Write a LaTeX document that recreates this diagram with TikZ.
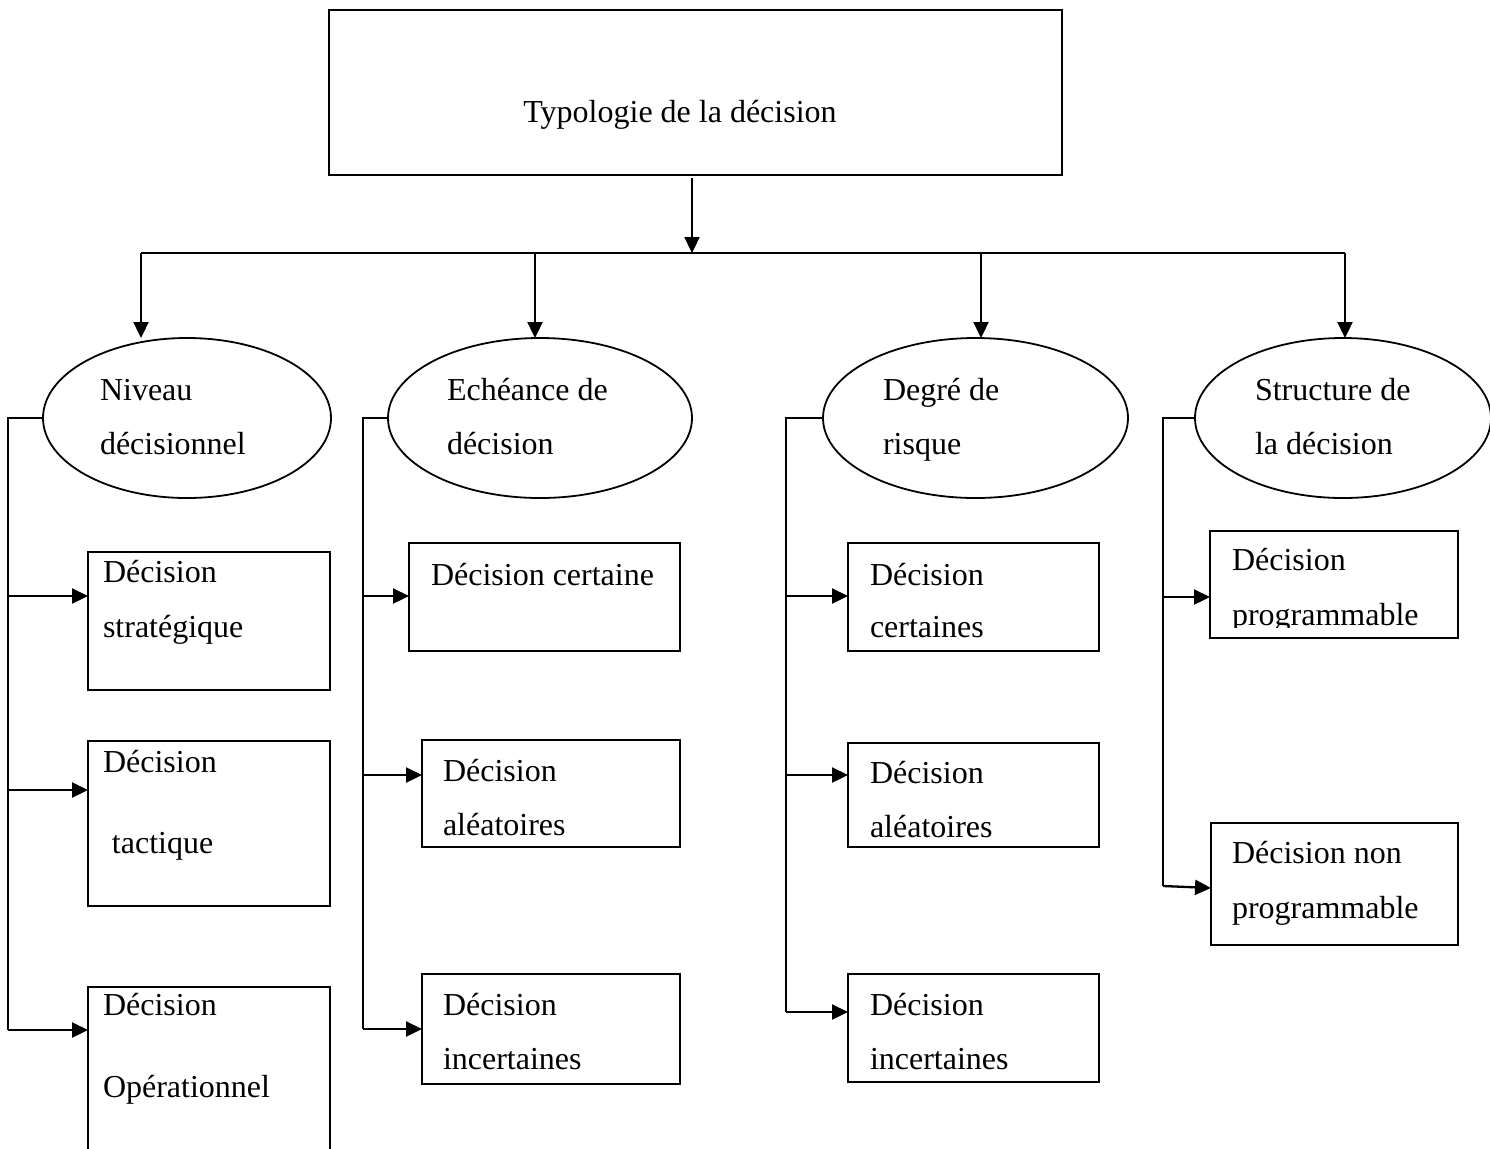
\documentclass[tikz,border=0pt]{standalone}
\usepackage{fontspec}
\setmainfont{Liberation Serif}
\usetikzlibrary{fit,shapes.geometric,arrows.meta}
\begin{document}
\begin{tikzpicture}[x=0.5pt,y=-0.5pt,
  line width=1.15pt,
  box/.style={draw,rectangle,inner sep=0pt,outer sep=0pt},
  ell/.style={draw,ellipse,inner sep=0pt,outer sep=0pt,line width=0.9pt,minimum height=80pt},
  txt/.style={anchor=base west,inner sep=0pt,outer sep=0pt,font=\fontsize{16pt}{16pt}\selectfont},
  arr/.style={-{Triangle[length=8pt,width=7.5pt]}}]
\path[use as bounding box,clip] (0,0) rectangle (1490,1148);

% top
\node[box,line width=1.3pt,fit={(329,10) (1062,175)}] (T) {};
\node[txt,anchor=base] (tT) at (680,122) {Typologie de la décision};
\coordinate (hub) at (692,253);
\coordinate (h1) at (141,253);
\coordinate (h2) at (535,253);
\coordinate (h3) at (981,253);
\coordinate (h4) at (1345,253);
\draw[arr] ([yshift=-1.5pt]T.south -| hub) -- (hub);
\draw (h1) -- (h4);

% ellipses
\node[ell,minimum width=144pt] (e1) at (187,418) {};
\node[ell,minimum width=152pt] (e2) at (540,418) {};
\node[ell,minimum width=152.5pt] (e3) at (975.5,418) {};
\node[ell,minimum width=148pt] (e4) at (1343,418) {};
\draw[arr] (h1) -- (h1 |- e1.north);
\draw[arr] (h2) -- (h2 |- e2.north);
\draw[arr] (h3) -- (h3 |- e3.north);
\draw[arr] (h4) -- (h4 |- e4.north);

\node[txt] (te1a) at (100,400) {Niveau};
\node[txt] (te1b) at (100,454) {décisionnel};
\node[txt] (te2a) at (447,400) {Echéance de};
\node[txt] (te2b) at (447,454) {décision};
\node[txt] (te3a) at (883,400) {Degré de};
\node[txt] (te3b) at (883,454) {risque};
\node[txt] (te4a) at (1255,400) {Structure de};
\node[txt] (te4b) at (1255,454) {la décision};

% column 1
\node[box,fit={(88,552) (330,690)}] (b11) {};
\node[box,fit={(88,741) (330,906)}] (b12) {};
\node[box,fit={(88,987) (330,1170)}] (b13) {};
\node[txt] (t11a) at (103,582) {Décision};
\node[txt] (t11b) at (103,637) {stratégique};
\node[txt] (t12a) at (103,772) {Décision};
\node[txt] (t12b) at (112,853) {tactique};
\node[txt] (t13a) at (103,1015) {Décision};
\node[txt] (t13b) at (103,1097) {Opérationnel};
\coordinate (v1) at (8,418);
\coordinate (j11) at (8,596);
\coordinate (j12) at (8,790);
\coordinate (j13) at (8,1030);
\draw (e1.west) -- (v1) -- (j13);
\draw[arr] (j11) -- (j11 -| b11.west);
\draw[arr] (j12) -- (j12 -| b12.west);
\draw[arr] (j13) -- (j13 -| b13.west);

% column 2
\node[box,fit={(409,543) (680,651)}] (b21) {};
\node[box,fit={(422,740) (680,847)}] (b22) {};
\node[box,fit={(422,974) (680,1084)}] (b23) {};
\node[txt] (t21a) at (431,585) {Décision certaine};
\node[txt] (t22a) at (443,781) {Décision};
\node[txt] (t22b) at (443,835) {aléatoires};
\node[txt] (t23a) at (443,1015) {Décision};
\node[txt] (t23b) at (443,1069) {incertaines};
\coordinate (v2) at (363,418);
\coordinate (j21) at (363,596);
\coordinate (j22) at (363,775);
\coordinate (j23) at (363,1029);
\draw (e2.west) -- (v2) -- (j23);
\draw[arr] (j21) -- (j21 -| b21.west);
\draw[arr] (j22) -- (j22 -| b22.west);
\draw[arr] (j23) -- (j23 -| b23.west);

% column 3
\node[box,fit={(848,543) (1099,651)}] (b31) {};
\node[box,fit={(848,743) (1099,847)}] (b32) {};
\node[box,fit={(848,974) (1099,1082)}] (b33) {};
\node[txt] (t31a) at (870,585) {Décision};
\node[txt] (t31b) at (870,637) {certaines};
\node[txt] (t32a) at (870,783) {Décision};
\node[txt] (t32b) at (870,837) {aléatoires};
\node[txt] (t33a) at (870,1015) {Décision};
\node[txt] (t33b) at (870,1069) {incertaines};
\coordinate (v3) at (786,418);
\coordinate (j31) at (786,596);
\coordinate (j32) at (786,775);
\coordinate (j33) at (786,1012);
\draw (e3.west) -- (v3) -- (j33);
\draw[arr] (j31) -- (j31 -| b31.west);
\draw[arr] (j32) -- (j32 -| b32.west);
\draw[arr] (j33) -- (j33 -| b33.west);

% column 4
\node[box,fit={(1210,531) (1458,638)}] (b41) {};
\node[box,fit={(1211,823) (1458,945)}] (b42) {};
\node[txt] (t41a) at (1232,570) {Décision};
\begin{scope}
\clip (1211,531) rectangle (1458,627);
\node[txt] (t41b) at (1232,625) {programmable};
\end{scope}
\node[txt] (t42a) at (1232,863) {Décision non};
\node[txt] (t42b) at (1232,918) {programmable};
\coordinate (v4) at (1163,418);
\coordinate (j41) at (1163,597);
\coordinate (j42) at (1163,886);
\coordinate (k42) at (1211,888);
\draw (e4.west) -- (v4) -- (j42);
\draw[arr] (j41) -- (j41 -| b41.west);
\draw[arr] (j42) -- (b42.west |- k42);
\end{tikzpicture}
\end{document}
